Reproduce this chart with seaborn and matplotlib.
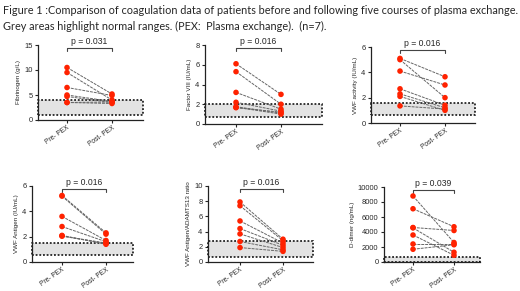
import numpy as np
import pandas as pd
import seaborn as sns
import matplotlib.pyplot as plt
from matplotlib import font_manager
from matplotlib.patches import Rectangle

sns.set_theme(style="ticks")
plt.rcParams['font.family'] = ['Liberation Sans', 'DejaVu Sans']

# narrow font for axis titles if there is one
try:
    font_manager.findfont("Liberation Sans Narrow", fallback_to_default=False)
    label_font, label_size = "Liberation Sans Narrow", 5.0
except Exception:
    label_font, label_size = "Liberation Sans", 4.5

groups = ["Pre- PEX", "Post- PEX"]

fib_pre = [10.5, 9.5, 6.5, 5.0, 4.7, 3.5, 3.5]
fib_post = [5.2, 4.0, 4.9, 3.7, 3.5, 3.3, 3.6]
f8_pre = [6.1, 5.3, 3.2, 2.2, 1.75, 1.7, 1.65]
f8_post = [3.0, 2.0, 1.5, 1.3, 1.1, 1.0, 1.2]
vwfa_pre = [5.1, 5.0, 4.1, 2.7, 2.3, 2.1, 1.35]
vwfa_post = [3.65, 2.0, 3.0, 1.4, 1.2, 1.0, 1.1]
vwfag_pre = [5.25, 5.2, 3.6, 2.8, 2.05, 2.05, 2.1]
vwfag_post = [2.3, 2.2, 1.7, 1.6, 1.5, 1.45, 1.4]
ratio_pre = [7.9, 7.4, 5.4, 4.4, 3.7, 2.7, 1.9]
ratio_post = [3.0, 2.8, 2.5, 2.2, 1.9, 1.6, 1.4]
dd_pre = [8800, 7100, 4600, 4550, 3600, 2400, 1700]
dd_post = [2600, 4700, 4200, 1300, 900, 2400, 2300]

panels = [
    dict(pre=fib_pre, post=fib_post, label="Fibrinogen (g/L)", ylim=15, yticks=[0, 5, 10, 15],
         normal=(1.0, 4.0), p="p = 0.031", box=(38, 45, 143, 120), cat=(67, 112)),
    dict(pre=f8_pre, post=f8_post, label="Factor VIII (IU/mL)", ylim=8, yticks=[0, 2, 4, 6, 8],
         normal=(0.7, 2.0), p="p = 0.016", box=(205, 45, 322, 124), cat=(236, 281)),
    dict(pre=vwfa_pre, post=vwfa_post, label="VWF activity (IU/mL)", ylim=6, yticks=[0, 2, 4, 6],
         normal=(0.6, 1.6), p="p = 0.016", box=(371, 47, 475, 123), cat=(400, 445)),
    dict(pre=vwfag_pre, post=vwfag_post, label="VWF Antigen (IU/mL)", ylim=6, yticks=[0, 2, 4, 6],
         normal=(0.55, 1.5), p="p = 0.016", box=(32, 186, 133, 262), cat=(62, 106)),
    dict(pre=ratio_pre, post=ratio_post, label="VWF Antigen/ADAMTS13 ratio", ylim=10,
         yticks=[0, 2, 4, 6, 8, 10], normal=(0.7, 2.8), p="p = 0.016",
         box=(208, 186, 313, 262), cat=(240, 283)),
    dict(pre=dd_pre, post=dd_post, label="D-dimer (ng/mL)", ylim=10000,
         yticks=[0, 2000, 4000, 6000, 8000, 10000], normal=(0, 650), p="p = 0.039",
         box=(384, 187, 480, 262), cat=(413, 454)),
]

W, H = 520, 291
fig = plt.figure(figsize=(W / 100, H / 100), dpi=100)
fig.patch.set_facecolor("white")

title_font = ["Lato", "DejaVu Sans"]
fig.text(3 / W, 1 - 10 / H,
         "Figure 1 :Comparison of coagulation data of patients before and following five courses of plasma exchange.",
         ha="left", va="center", fontsize=7.85, family=title_font)
fig.text(3 / W, 1 - 26 / H,
         "Grey areas highlight normal ranges. (PEX:  Plasma exchange).  (n=7).",
         ha="left", va="center", fontsize=7.85, family=title_font)

for pnl in panels:
    x0, y0, x1, y1 = pnl["box"]
    ax = fig.add_axes([x0 / W, 1 - y1 / H, (x1 - x0) / W, (y1 - y0) / H])
    c0, c1 = pnl["cat"]
    unit = c1 - c0
    ax.set_xlim(-(c0 - x0) / unit, (x1 - c0) / unit)
    ax.set_ylim(0, pnl["ylim"])

    n = len(pnl["pre"])
    df = pd.DataFrame({
        "patient": list(range(n)) * 2,
        "x": [0] * n + [1] * n,
        "value": pnl["pre"] + pnl["post"],
    })
    lo, hi = pnl["normal"]
    xl = ax.get_xlim()
    ax.add_patch(Rectangle((xl[0], lo), xl[1] - xl[0], hi - lo, facecolor="#e3e3e3",
                           edgecolor="black", linestyle=(0, (1.2, 1.2)), lw=1.1,
                           zorder=1, clip_on=False))
    sns.lineplot(data=df, x="x", y="value", units="patient", estimator=None, ax=ax,
                 color="#666666", lw=0.7, linestyle=(0, (3, 1)), zorder=2, legend=False)
    sns.scatterplot(data=df, x="x", y="value", ax=ax, color="#ff2200", s=16,
                    edgecolor="none", zorder=3, legend=False, clip_on=False)

    ax.set_xticks([0, 1])
    ax.set_xticklabels(groups, rotation=35, ha="right", rotation_mode="anchor", fontsize=4.8)
    ax.set_yticks(pnl["yticks"])
    ax.tick_params(axis="y", labelsize=5.4, length=2.5, width=0.8, pad=1.5)
    ax.tick_params(axis="x", length=2.5, width=0.8, pad=0.8)
    ax.set_xlabel("")
    ax.set_ylabel(pnl["label"], fontsize=label_size, labelpad=2,
                  family=[label_font, "Liberation Sans"])
    sns.despine(ax=ax)
    for s in ["left", "bottom"]:
        ax.spines[s].set_linewidth(0.9)
        ax.spines[s].set_color("#222222")

    top = pnl["ylim"]
    yb = top * 0.96
    ax.plot([0, 0, 1, 1], [yb - top * 0.04, yb, yb, yb - top * 0.04], color="#444444",
            lw=0.8, clip_on=False)
    ax.text(0.5, yb + top * 0.03, pnl["p"], ha="center", va="bottom", fontsize=6.2)

fig.savefig("out.png", dpi=100)
